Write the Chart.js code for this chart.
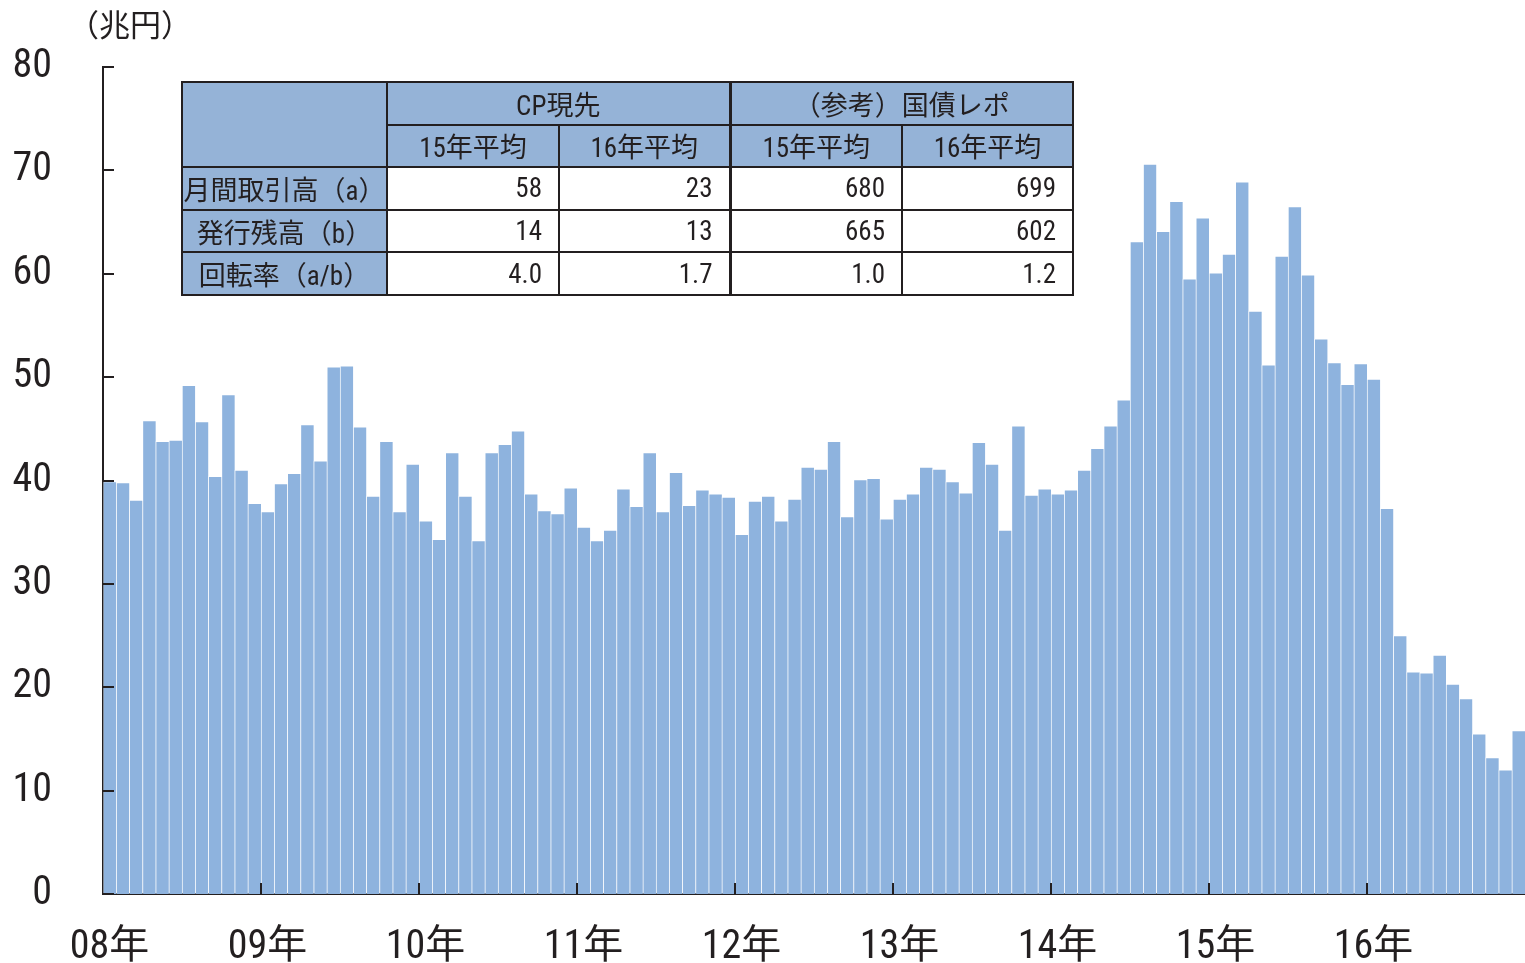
<!DOCTYPE html>
<html>
<head>
<meta charset="utf-8">
<script src="https://cdn.jsdelivr.net/npm/chart.js@4"></script>
<style>
  html, body { margin: 0; padding: 0; background: #fff; }
  #wrap { position: relative; width: 1525px; height: 963px; }
  #unit {
    position: absolute; left: 68px; top: 0px;
    font: 31px "Noto Sans CJK JP", sans-serif; color: #231f20;
  }
  #summary {
    position: absolute; left: 181px; top: 81px;
    border-collapse: collapse; color: #231f20;
    font: 27px "Roboto Condensed", "Noto Sans CJK JP", sans-serif;
  }
  #summary td, #summary th {
    border: 2px solid #231f20; padding: 0; font-weight: normal;
    height: 42.6px; box-sizing: border-box;
  }
  #summary th { background: #95b3d7; text-align: center; }
  #summary td { background: #fff; text-align: right; padding-right: 16px; }
  #summary .grp { border-left-width: 3px; }
</style>
</head>
<body>
<div id="wrap">
  <canvas id="cpChart" width="1525" height="963"></canvas>
  <div id="unit">（兆円）</div>
  <table id="summary"></table>
</div>
<script>
// 月間取引高（兆円）, 2008年1月 - 2016年12月
const years = ['08年', '09年', '10年', '11年', '12年', '13年', '14年', '15年', '16年'];
const volume = [
  39.9, 39.8, 38.1, 45.8, 43.8, 43.9, 49.2, 45.7, 40.4, 48.3, 41.0, 37.8,
  37.0, 39.7, 40.7, 45.4, 41.9, 51.0, 51.1, 45.2, 38.5, 43.8, 37.0, 41.6,
  36.1, 34.3, 42.7, 38.5, 34.2, 42.7, 43.5, 44.8, 38.7, 37.1, 36.8, 39.3,
  35.5, 34.2, 35.2, 39.2, 37.5, 42.7, 37.0, 40.8, 37.6, 39.1, 38.7, 38.4,
  34.8, 38.0, 38.5, 36.1, 38.2, 41.3, 41.1, 43.8, 36.5, 40.1, 40.2, 36.3,
  38.2, 38.7, 41.3, 41.1, 39.9, 38.8, 43.7, 41.6, 35.2, 45.3, 38.6, 39.2,
  38.7, 39.1, 41.0, 43.1, 45.3, 47.8, 63.1, 70.6, 64.1, 67.0, 59.5, 65.4,
  60.1, 61.9, 68.9, 56.4, 51.2, 61.7, 66.5, 59.9, 53.7, 51.4, 49.3, 51.3,
  49.8, 37.3, 25.0, 21.5, 21.4, 23.1, 20.3, 18.9, 15.5, 13.2, 12.0, 15.8
];
const yTicks = [0, 10, 20, 30, 40, 50, 60, 70, 80];

// inset table
const groups = ['CP現先', '（参考）国債レポ'];
const periods = ['15年平均', '16年平均'];
const rowNames = ['月間取引高（a）', '発行残高（b）', '回転率（a/b）'];
const cpValues = [['58', '23'], ['14', '13'], ['4.0', '1.7']];
const repoValues = [['680', '699'], ['665', '602'], ['1.0', '1.2']];

const labels = [];
years.forEach(y => {
  for (let m = 1; m <= 12; m++) labels.push(y + m + '月');
});

// table
let html = '<tr><th rowspan="2" style="width:205px"></th>' +
  '<th colspan="2">' + groups[0] + '</th><th colspan="2" class="grp">' + groups[1] + '</th></tr><tr>';
[0, 1].forEach(g => periods.forEach((p, j) => {
  html += '<th style="width:' + (j ? 171 : 172) + 'px"' + (g && !j ? ' class="grp"' : '') + '>' + p + '</th>';
}));
html += '</tr>';
rowNames.forEach((name, i) => {
  html += '<tr><th>' + name + '</th>' +
    '<td>' + cpValues[i][0] + '</td><td>' + cpValues[i][1] + '</td>' +
    '<td class="grp">' + repoValues[i][0] + '</td><td>' + repoValues[i][1] + '</td></tr>';
});
document.getElementById('summary').innerHTML = html;

const axisColor = '#231f20';
const numFont = '"Roboto Condensed", "Noto Sans CJK JP", sans-serif';

// short inward tick marks like the original
const innerTicks = {
  id: 'innerTicks',
  afterDatasetsDraw(chart) {
    const {ctx, scales: {x, y}, chartArea} = chart;
    ctx.save();
    ctx.strokeStyle = axisColor;
    ctx.lineWidth = 2;
    ctx.beginPath();
    yTicks.forEach(v => {
      const py = Math.round(y.getPixelForValue(v));
      ctx.moveTo(chartArea.left, py);
      ctx.lineTo(chartArea.left + 11, py);
    });
    const half = (x.getPixelForValue(1) - x.getPixelForValue(0)) / 2;
    for (let i = 12; i < labels.length; i += 12) {
      const px = Math.round(x.getPixelForValue(i) - half);
      ctx.moveTo(px, chartArea.bottom);
      ctx.lineTo(px, chartArea.bottom - 11);
    }
    ctx.stroke();
    ctx.restore();
  }
};

new Chart(document.getElementById('cpChart'), {
  type: 'bar',
  data: {
    labels: labels,
    datasets: [{
      data: volume,
      backgroundColor: '#8eb3de',
      borderColor: 'rgba(255,255,255,0.4)',
      borderWidth: {top: 1, left: 1, right: 0, bottom: 0},
      borderSkipped: false,
      categoryPercentage: 1,
      barPercentage: 1
    }]
  },
  options: {
    responsive: false,
    animation: false,
    layout: { padding: { top: 67, left: 0, right: 0, bottom: 0 } },
    plugins: { legend: { display: false }, tooltip: { enabled: false } },
    scales: {
      x: {
        grid: { display: false, drawTicks: false },
        border: { display: true, color: axisColor, width: 2 },
        afterFit: s => { s.height = 69; s.paddingLeft = 0; s.paddingRight = 0; },
        ticks: {
          autoSkip: false, maxRotation: 0, padding: 30,
          color: axisColor,
          font: { family: numFont, size: 40 },
          callback: (v, i) => (i % 12 === 0 ? years[i / 12] : '')
        }
      },
      y: {
        min: 0, max: 80,
        grid: { display: false, drawTicks: false },
        border: { display: true, color: axisColor, width: 2 },
        afterFit: s => { s.width = 103; s.paddingTop = 0; s.paddingBottom = 0; },
        afterBuildTicks: s => { s.ticks = yTicks.map(v => ({value: v})); },
        ticks: {
          padding: 51,
          color: axisColor,
          font: { family: numFont, size: 40 }
        }
      }
    }
  },
  plugins: [innerTicks]
});
</script>
</body>
</html>
